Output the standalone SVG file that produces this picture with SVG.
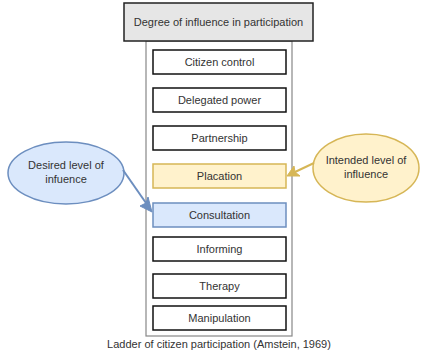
<svg xmlns="http://www.w3.org/2000/svg" width="422" height="351" viewBox="0 0 422 351">
  <style>
    text { font-family: "Liberation Sans", Arial, sans-serif; font-size: 11px; fill: #333; text-anchor: middle; dominant-baseline: central; }
    .rung { fill: #fff; stroke: #111; stroke-width: 1.5; }
    .blue { fill: #dae8fc; stroke: #6c8ebf; stroke-width: 1.5; }
    .yellow { fill: #fff2cc; stroke: #d6b656; stroke-width: 1.5; }
    .frame { fill: #fff; stroke: #888; stroke-width: 1.2; }
  </style>

  <rect width="422" height="351" fill="#fff"/>

  <g id="ladder-frame">
    <rect class="frame" x="146" y="41" width="146" height="295"/>
  </g>

  <g id="header">
    <rect x="124" y="3" width="189" height="38" fill="#e6e6e6" stroke="#222" stroke-width="1.5"/>
    <text x="218.5" y="22" font-size="12">Degree of influence in participation</text>
  </g>

  <g id="citizen-control">
    <rect class="rung" x="153" y="50" width="133" height="24"/>
    <text x="219.5" y="62">Citizen control</text>
  </g>
  <g id="delegated-power">
    <rect class="rung" x="153" y="88" width="133" height="24"/>
    <text x="219.5" y="100">Delegated power</text>
  </g>
  <g id="partnership">
    <rect class="rung" x="153" y="126" width="133" height="24"/>
    <text x="219.5" y="138">Partnership</text>
  </g>
  <g id="placation">
    <rect class="yellow" x="153" y="164" width="133" height="24"/>
    <text x="219.5" y="176">Placation</text>
  </g>
  <g id="consultation">
    <rect class="blue" x="153" y="203" width="133" height="24"/>
    <text x="219.5" y="215">Consultation</text>
  </g>
  <g id="informing">
    <rect class="rung" x="153" y="237" width="133" height="24"/>
    <text x="219.5" y="249">Informing</text>
  </g>
  <g id="therapy">
    <rect class="rung" x="153" y="274" width="133" height="24"/>
    <text x="219.5" y="286">Therapy</text>
  </g>
  <g id="manipulation">
    <rect class="rung" x="153" y="306" width="133" height="24"/>
    <text x="219.5" y="318">Manipulation</text>
  </g>

  <g id="desired-level">
    <ellipse class="blue" cx="66" cy="173" rx="58" ry="31"/>
    <text x="66" y="165">Desired level of</text>
    <text x="66" y="179">infuence</text>
  </g>

  <g id="intended-level">
    <ellipse class="yellow" cx="366" cy="168" rx="53" ry="34"/>
    <text x="366" y="160">Intended level of</text>
    <text x="366" y="174">influence</text>
  </g>

  <g id="connectors">
    <!-- desired level -> consultation -->
    <line x1="123" y1="170" x2="146" y2="203" stroke="#6c8ebf" stroke-width="2"/>
    <polygon points="152,212 140,206 146,203 148,197" fill="#6c8ebf" stroke="#6c8ebf" stroke-width="1" stroke-linejoin="round"/>
    <!-- intended level -> placation -->
    <line x1="314" y1="163" x2="295" y2="172" stroke="#d6b656" stroke-width="2"/>
    <polygon points="287,176 294,166 295,172 300,176" fill="#d6b656" stroke="#d6b656" stroke-width="1" stroke-linejoin="round"/>
  </g>

  <g id="caption">
    <text x="219" y="344" font-size="9">Ladder of citizen participation (Amstein, 1969)</text>
  </g>
</svg>
